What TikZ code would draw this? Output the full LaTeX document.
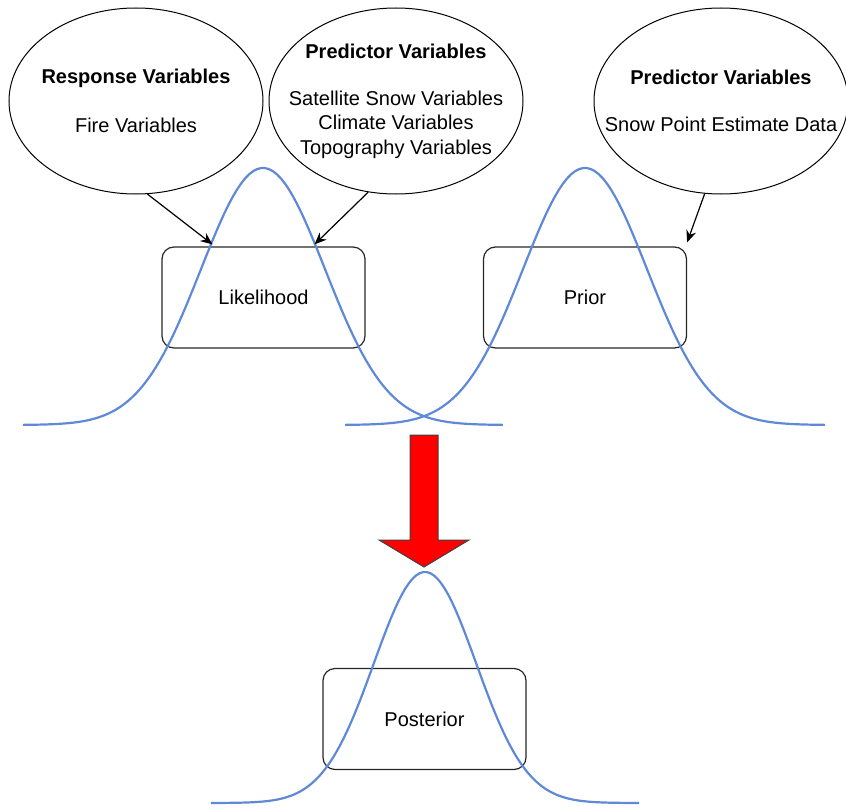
\documentclass[tikz,border=0pt]{standalone}
\usepackage{fontspec}
\setmainfont{Liberation Sans}
\usetikzlibrary{arrows.meta,shapes.geometric,calc}
\definecolor{curve}{RGB}{95,137,215}

\begin{document}
\begin{tikzpicture}[x=1pt,y=-1pt,semithick,font=\fontsize{20}{24.5}\selectfont]
	  \tikzstyle{var}=[ellipse,draw=black,fill=white,line width=1pt,minimum width=254pt,minimum height=186pt,inner xsep=-30pt,inner ysep=-40pt,align=center]
	  \tikzstyle{dist}=[rectangle,rounded corners=12pt,draw=black!85,line width=1.2pt,minimum width=203pt,minimum height=101pt]
	  \tikzstyle{bell}=[draw=curve,line width=2.2pt]
	  \tikzstyle{link}=[-{Stealth[length=12pt,width=10pt]},line width=1.2pt]

	  \useasboundingbox (0,0) rectangle (846,808);

	  \node[var] (R) at (136,101) {\textbf{Response Variables}\\[24.5pt]Fire Variables};
	  \node[var] (P) at (396,101) {\textbf{Predictor Variables}\\[22.5pt]Satellite Snow Variables\\Climate Variables\\Topography Variables};
	  \node[var] (S) at (721,101) {\textbf{Predictor Variables}\\[22.5pt]Snow Point Estimate Data};

	  \node[dist] (L) at (263.5,297.5) {Likelihood};
	  \node[dist] (Pr) at (585,297.5) {Prior};
	  \node[dist] (Po) at (424.5,719) {Posterior};

	  % bell curves
	  \draw[bell] plot[domain=-3.87:3.87,samples=120] ({263+62*\x},{425-257*exp(-0.5*(\x)*(\x))});
	  \draw[bell] plot[domain=-3.87:3.87,samples=120] ({585+62*\x},{425-257*exp(-0.5*(\x)*(\x))});
	  \draw[bell] plot[domain=-4.2:4.2,samples=120] ({425+51*\x},{803-231*exp(-0.5*(\x)*(\x))});

	  \path
	  (R.-83) edge[link] ($(L.north west)!0.25!(L.north east)+(0,-2)$)
	  (P.-107) edge[link] ($(L.north west)!0.75!(L.north east)+(0,-2)$)
	  (S.-100) edge[link] ($(Pr.north east)+(0,-4)$)
	  ;

	  % big red arrow
	  \filldraw[fill=red,draw=black!75,line width=1pt] (410,435) -- (438,435) -- (438,540) -- (469,540) -- (424,567) -- (379,540) -- (410,540) -- cycle;
	\end{tikzpicture}
\end{document}
